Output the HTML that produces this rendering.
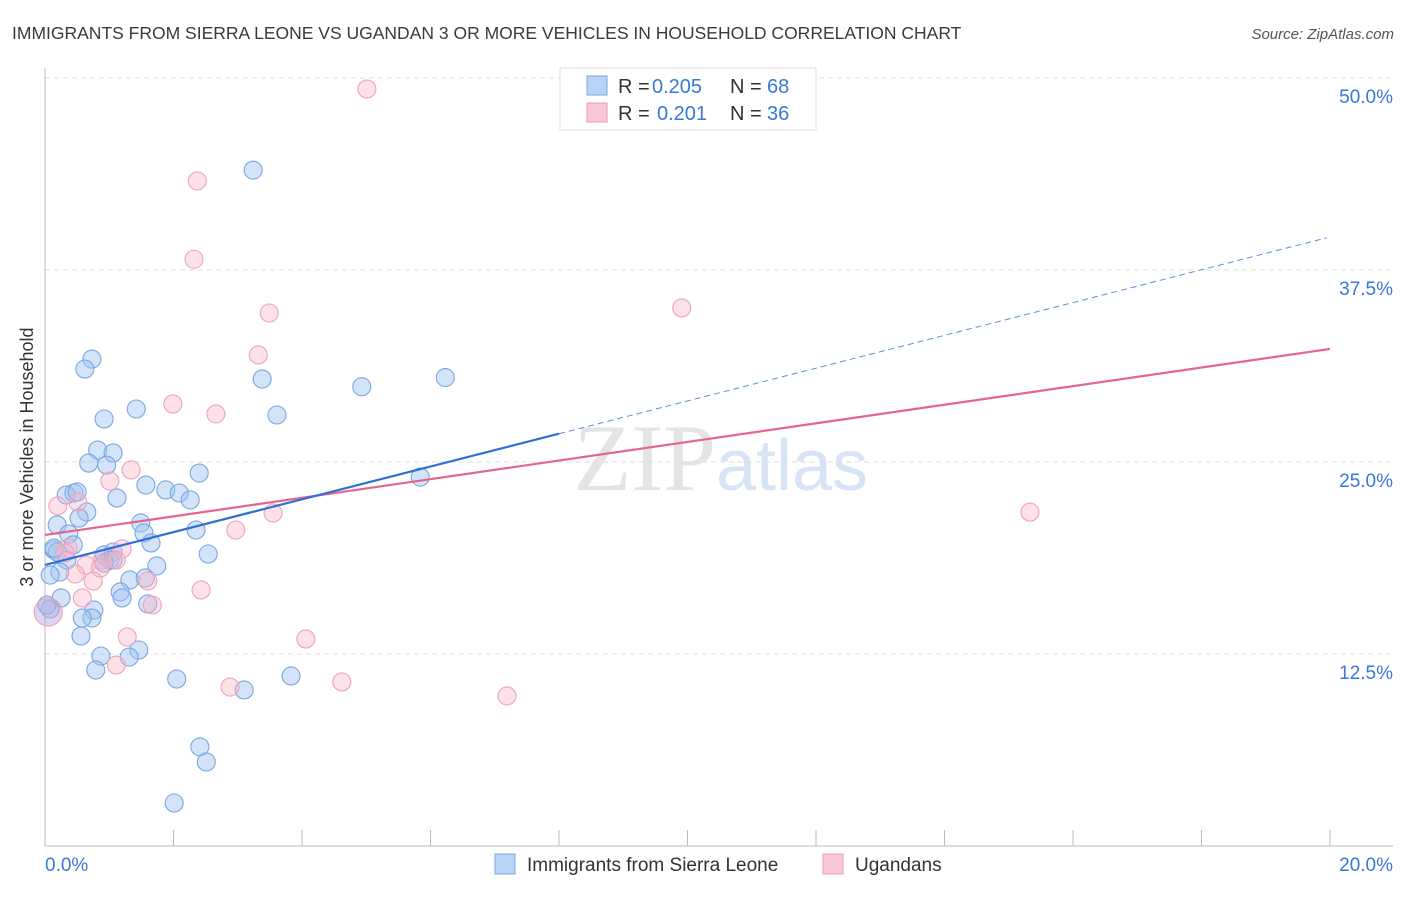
<!DOCTYPE html>
<html><head><meta charset="utf-8"><style>
body{margin:0;background:#fff;font-family:"Liberation Sans",sans-serif}
</style></head><body>
<svg width="1406" height="892" xmlns="http://www.w3.org/2000/svg" style="font-family:'Liberation Sans',sans-serif">
<text x="12" y="39" font-size="17.5" fill="#3a3a3a">IMMIGRANTS FROM SIERRA LEONE VS UGANDAN 3 OR MORE VEHICLES IN HOUSEHOLD CORRELATION CHART</text>
<text x="1394" y="39" font-size="15" fill="#555" font-style="italic" text-anchor="end">Source: ZipAtlas.com</text>
<text x="716" y="490" font-size="95" fill="#e4e4e4" text-anchor="end" font-family="Liberation Serif">ZIP</text>
<text x="716" y="490" font-size="72" fill="#d6e4f5">atlas</text>
<g id="grid"></g>
<line x1="45" y1="68" x2="45" y2="846" stroke="#bbb"/>
<line x1="45" y1="846" x2="1393" y2="846" stroke="#bbb"/>
<g id="xticks"></g>
<text x="33" y="457" font-size="18" fill="#333" text-anchor="middle" transform="rotate(-90 33 457)">3 or more Vehicles in Household</text>
<g id="pts"></g>
<g id="lines"></g>
<g>
<rect x="560" y="68" width="256" height="62" fill="#fff" stroke="#ddd"/>
<rect x="587" y="76" width="20" height="19" fill="#b8d3f5" stroke="#7aa6e0"/>
<rect x="587" y="103" width="20" height="19" fill="#f9c7d6" stroke="#eb9bb5"/>
<text x="618" y="93" font-size="20" fill="#333">R =</text>
<text x="652" y="93" font-size="20" fill="#3a78d4">0.205</text>
<text x="730" y="93" font-size="20" fill="#333">N =</text>
<text x="767" y="93" font-size="20" fill="#3a78d4">68</text>
<text x="618" y="120" font-size="20" fill="#333">R =</text>
<text x="657" y="120" font-size="20" fill="#3a78d4">0.201</text>
<text x="730" y="120" font-size="20" fill="#333">N =</text>
<text x="767" y="120" font-size="20" fill="#3a78d4">36</text>
</g>
<g>
<rect x="495" y="854" width="20" height="20" fill="#b8d3f5" stroke="#7aa6e0"/>
<text x="527" y="871" font-size="19" fill="#333">Immigrants from Sierra Leone</text>
<rect x="823" y="854" width="20" height="20" fill="#f9c7d6" stroke="#eb9bb5"/>
<text x="855" y="871" font-size="19" fill="#333">Ugandans</text>
</g>
<text x="45" y="871" font-size="19" fill="#3a78d4">0.0%</text>
<text x="1393" y="871" font-size="19" fill="#3a78d4" text-anchor="end">20.0%</text>
</svg>
<script>
const yTicks=[12.5,25,37.5,50];
const yTickLabels=["12.5%","25.0%","37.5%","50.0%"];
const xTicks=[0,2,4,6,8,10,12,14,16,18,20];
const blueX=[3.24,0.73,0.62,3.38,4.93,6.23,1.42,0.92,3.61,0.82,1.06,0.68,0.96,2.40,5.84,1.57,0.33,0.45,0.50,1.88,2.09,2.26,1.12,0.65,0.53,0.19,1.49,2.35,0.37,1.54,1.65,0.14,0.92,1.06,0.19,0.34,1.01,2.54,1.74,0.23,0.08,1.32,1.56,1.17,1.20,1.60,0.25,0.76,0.73,0.58,0.08,0.56,1.46,0.87,1.31,0.79,2.05,3.83,3.10,2.41,2.51,2.01,0.03,0.44,0.14,1.06,0.92];
const blueY=[44.0,31.7,31.05,30.4,29.9,30.5,28.45,27.8,28.06,25.78,25.59,24.93,24.8,24.28,24.02,23.5,22.85,22.98,23.05,23.18,22.98,22.53,22.66,21.74,21.35,20.9,21.03,20.57,20.31,20.38,19.73,19.27,18.95,19.14,19.14,18.62,18.62,19.01,18.23,17.84,17.64,17.32,17.45,16.54,16.15,15.76,16.15,15.36,14.84,14.84,15.43,13.67,12.76,12.37,12.30,11.46,10.87,11.07,10.16,6.45,5.47,2.8,15.69,19.6,19.4,18.62,18.42];
const pinkX=[5.01,2.37,2.32,3.49,9.91,3.32,1.99,2.66,1.34,1.01,0.51,0.20,15.33,3.55,2.97,0.36,1.20,0.31,0.89,1.11,0.64,0.47,0.86,1.60,0.75,0.58,1.67,2.43,1.28,4.06,1.11,2.88,4.62,7.19,0.05];
const pinkY=[49.28,43.3,38.2,34.7,35.03,31.97,28.78,28.13,24.48,23.76,22.4,22.14,21.74,21.68,20.57,19.4,19.34,19.08,18.62,18.62,18.29,17.71,18.1,17.25,17.25,16.15,15.69,16.67,13.61,13.48,11.78,10.35,10.68,9.77,15.23];
const blueTrend=[18.3,39.65]; // y at x=0, x=20
const pinkTrend=[20.25,32.36];
const NS="http://www.w3.org/2000/svg";
const sx=v=>45+v/20*1285, sy=v=>846-v/50*768;
function mk(t,a,p){const e=document.createElementNS(NS,t);for(const k in a)e.setAttribute(k,a[k]);p.appendChild(e);return e;}
const grid=document.getElementById('grid');
yTicks.forEach((t,i)=>{
 const l=mk('line',{x1:45,x2:1393,y1:sy(t),y2:sy(t),stroke:'#ddd','stroke-dasharray':'5,4'},grid);
 
 
 const tx=mk('text',{x:1393,y:sy(t)+25,'font-size':19,fill:'#3a78d4','text-anchor':'end'},grid);
 tx.textContent=yTickLabels[i];
 
 
});
const xt=document.getElementById('xticks');
xTicks.forEach(t=>{
 const l=mk('line',{x1:sx(t),x2:sx(t),y1:830,y2:846,stroke:'#bbb'},xt);
 
 
});
const pts=document.getElementById('pts');
blueX.forEach((x,i)=>{
 const c=mk('circle',{cx:sx(x),cy:sy(blueY[i]),r:9,fill:'rgba(160,196,240,0.45)',stroke:'#7aa6e0','stroke-width':1.1},pts);
 
 
});
pinkX.forEach((x,i)=>{
 const big=i===pinkX.length-1;
 const c=mk('circle',{cx:sx(x),cy:sy(pinkY[i]),r:big?14:9,fill:big?'rgba(190,170,220,0.5)':'rgba(247,180,200,0.4)',stroke:'#eda3bb','stroke-width':1.1},pts);
 
 
});
const ln=document.getElementById('lines');
const bAt=x=>blueTrend[0]+(blueTrend[1]-blueTrend[0])*x/20;
const pAt=x=>pinkTrend[0]+(pinkTrend[1]-pinkTrend[0])*x/20;
let e=mk('line',{x1:sx(0),y1:sy(pAt(0)),x2:sx(20),y2:sy(pAt(20)),stroke:'#e5648f','stroke-width':2.2},ln);


e=mk('line',{x1:sx(0),y1:sy(bAt(0)),x2:sx(8),y2:sy(bAt(8)),stroke:'#2f6fd6','stroke-width':2.2},ln);


e=mk('line',{x1:sx(8),y1:sy(bAt(8)),x2:sx(19.95),y2:sy(bAt(19.95)),stroke:'#5b8fdc','stroke-width':1,'stroke-dasharray':'6,4'},ln);


</script>
</body></html>
